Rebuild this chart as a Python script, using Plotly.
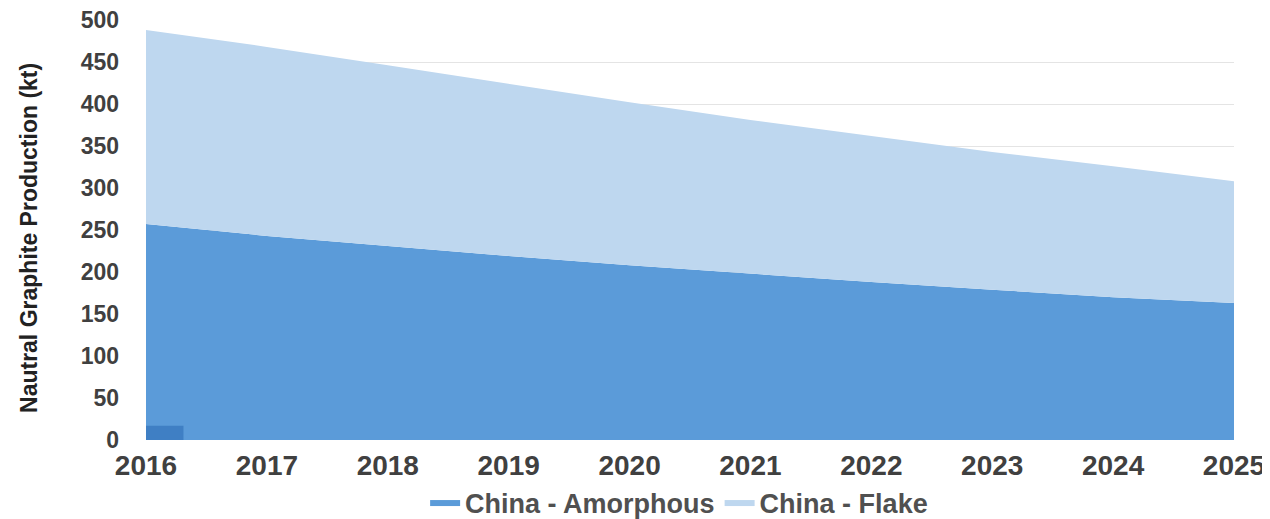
import plotly.graph_objects as go

years = [2016, 2017, 2018, 2019, 2020, 2021, 2022, 2023, 2024, 2025]
amorphous = [257, 243, 231, 219, 208, 198, 188, 179, 170, 163]
flake = [231, 225, 215, 205, 194, 183, 174, 164, 156, 145]
marker_x = [2016.155]
marker_val = [17]
y_ticks = [0, 50, 100, 150, 200, 250, 300, 350, 400, 450, 500]

font_fam = "Liberation Sans, Arial, sans-serif"

fig = go.Figure()
fig.add_trace(go.Scatter(
    x=years, y=amorphous, name="China - Amorphous", stackgroup="one",
    mode="lines", line=dict(width=0, color="#4f8fd3"), fillcolor="#5b9bd9"))
fig.add_trace(go.Scatter(
    x=years, y=flake, name="China - Flake", stackgroup="one",
    mode="lines", line=dict(width=0, color="#bed7ef"), fillcolor="#bed7ef"))
fig.add_trace(go.Bar(
    x=marker_x, y=marker_val, width=0.31, xaxis="x2", yaxis="y2",
    marker=dict(color="#3f7fc4", line=dict(width=0)),
    showlegend=False, hoverinfo="skip"))

fig.update_layout(
    width=1262, height=519,
    margin=dict(l=138, r=36, t=12, b=87),
    paper_bgcolor="white", plot_bgcolor="white",
    font=dict(family=font_fam, color="#404040", size=17),
    legend=dict(orientation="h", x=0.49, xanchor="center", yref="container",
                y=0.0, yanchor="bottom",
                font=dict(size=27, color="#505050", weight="bold"),
                itemwidth=30, traceorder="normal"),
    xaxis=dict(
        range=[2016, 2025], tickmode="array", tickvals=years,
        ticktext=[str(y) for y in years], automargin=False,
        tickfont=dict(size=28, weight="bold", color="#404040"),
        showgrid=False, zeroline=False, showline=False, ticks="",
        ticklabelstandoff=6),
    yaxis=dict(
        range=[0, 500], tickvals=y_ticks, automargin=False,
        tickfont=dict(size=23, weight="bold", color="#404040"),
        showgrid=True, gridcolor="#e4e4e4", gridwidth=1, zeroline=False,
        showline=False, ticks="", ticklabelstandoff=26,
        ticklabeloverflow="allow"),
    xaxis2=dict(overlaying="x", range=[2016, 2025], visible=False),
    yaxis2=dict(overlaying="y", range=[0, 500], visible=False),
    annotations=[dict(
        text="Nautral Graphite Production (kt)", textangle=-90,
        xref="paper", yref="paper", x=-0.107, y=0.48,
        xanchor="center", yanchor="middle", showarrow=False,
        font=dict(size=23, weight="bold", color="#222222"))],
)

fig.write_html("out.html")
